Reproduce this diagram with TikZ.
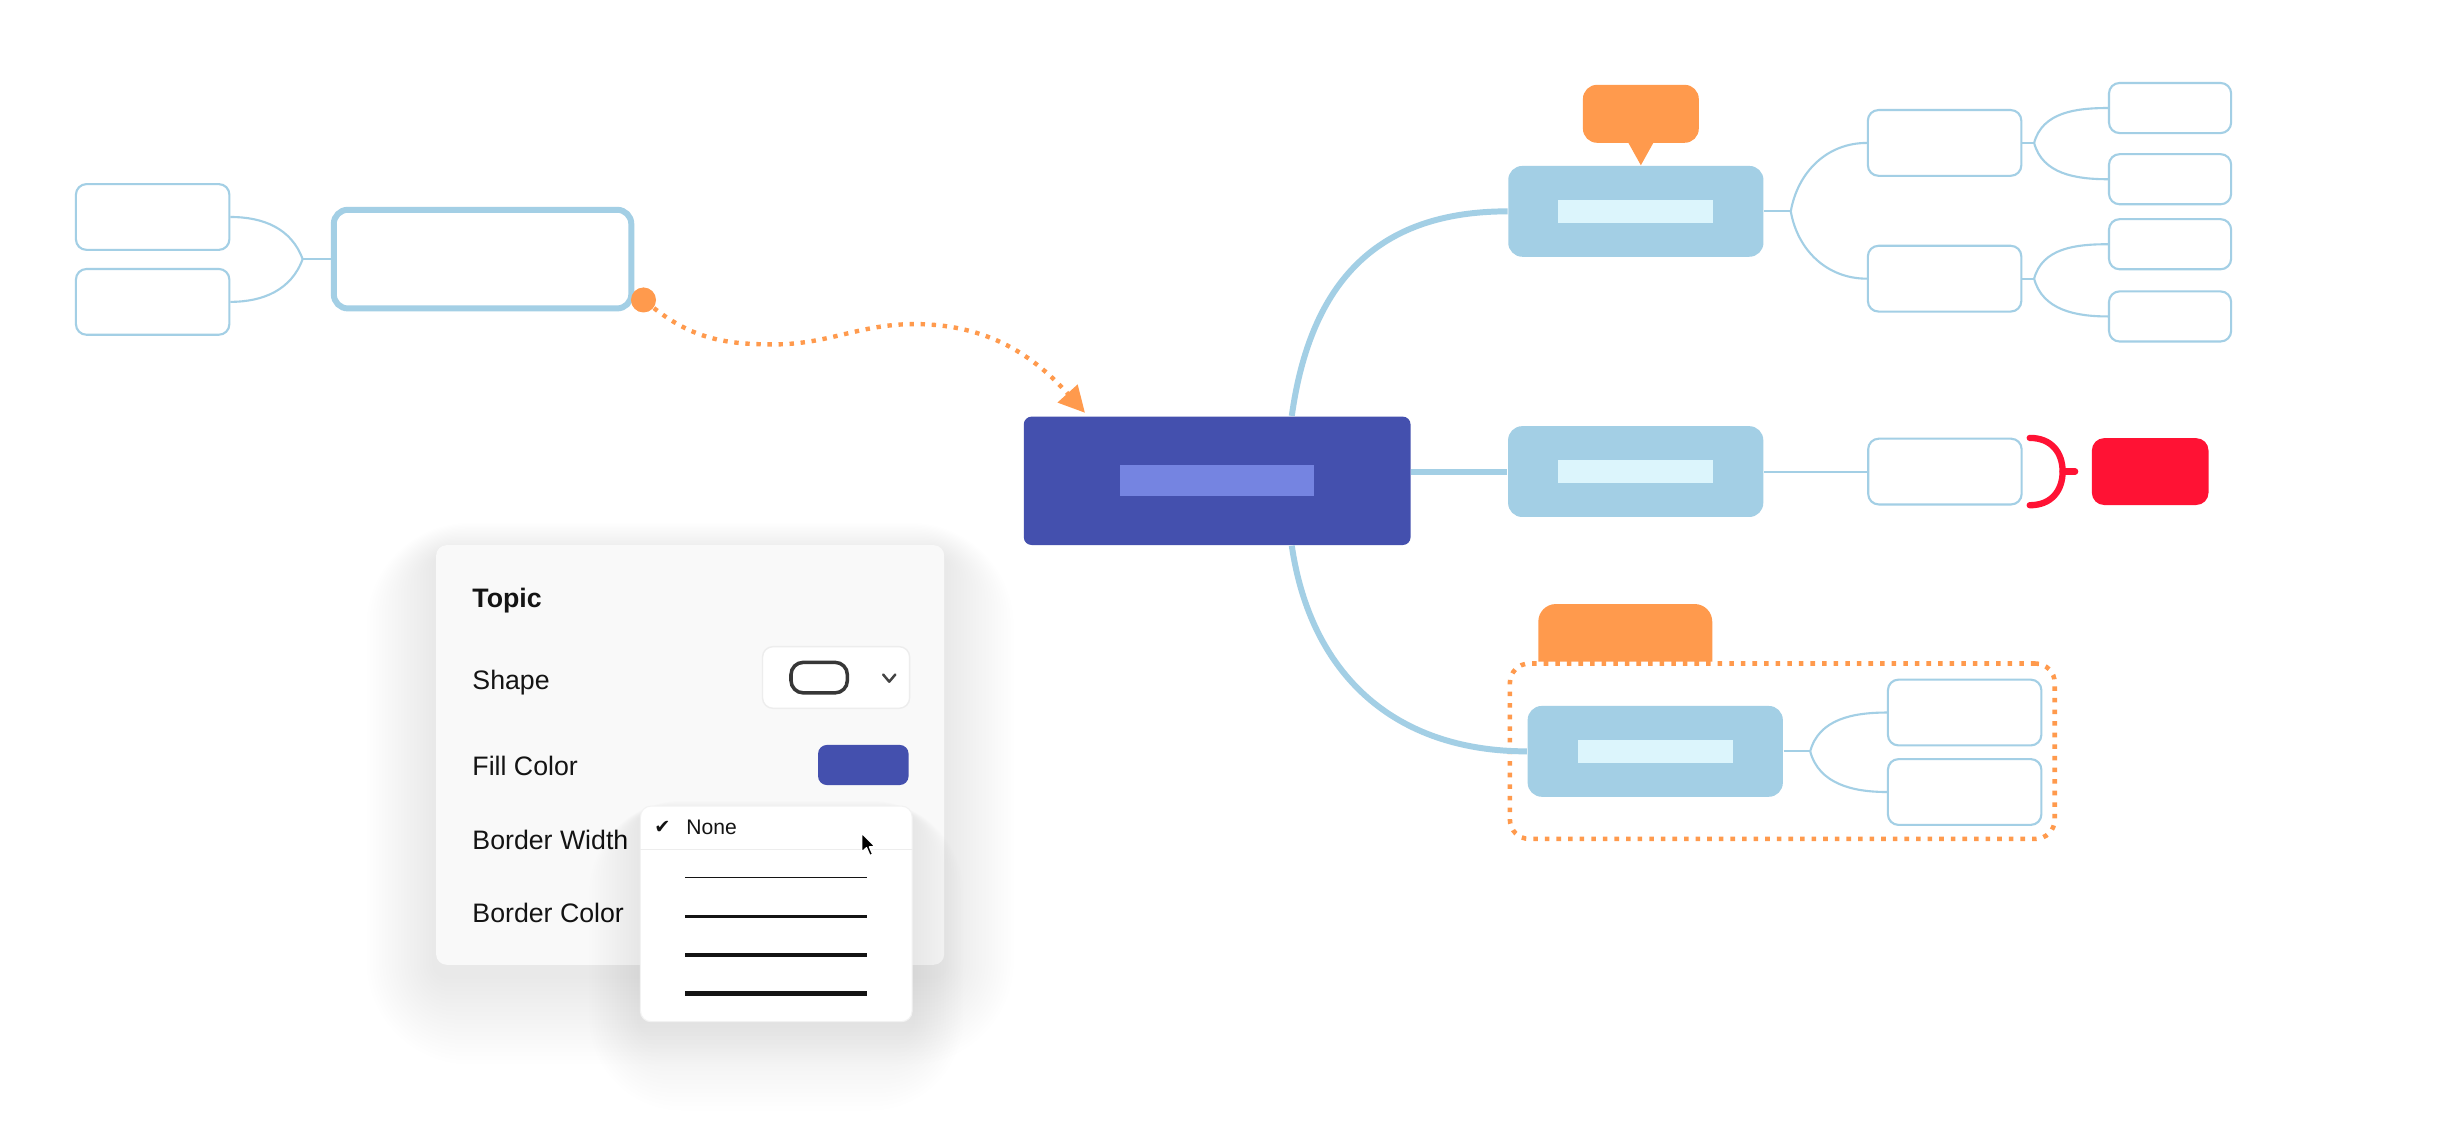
\documentclass[tikz,border=0pt]{standalone}
\usepackage{fontspec}
\setmainfont{Liberation Sans}
\newfontfamily\tickfont{DejaVu Sans}
\usepackage{xcolor}
\usepackage{tikz}
\usetikzlibrary{positioning,arrows.meta,calc}

\definecolor{linkblue}{HTML}{A3CFE5}
\definecolor{paleblue}{HTML}{DCF5FC}
\definecolor{rootblue}{HTML}{4450AE}
\definecolor{rootinner}{HTML}{7584E1}
\definecolor{notecolor}{HTML}{FF9A4D}
\definecolor{markred}{HTML}{FF1234}
\definecolor{panelgray}{HTML}{F9F9F9}
\definecolor{ink}{HTML}{141414}

\newdimen\pxu
\pxu=0.015657cm

\tikzset{
root/.style={
fill=rootblue,
rounded corners=2.2pt,
minimum width=247\pxu,
minimum height=82\pxu,
inner sep=0pt
},
rootbar/.style={
fill=rootinner,
minimum width=124\pxu,
minimum height=20\pxu,
inner sep=0pt
},
topic/.style={
fill=linkblue,
rounded corners=4pt,
minimum width=163\pxu,
minimum height=58\pxu,
inner sep=0pt
},
topicbar/.style={
fill=paleblue,
minimum width=99\pxu,
minimum height=15\pxu,
inner sep=0pt
},
mainbox/.style={
draw=linkblue,
line width=1.7pt,
fill=white,
rounded corners=4pt,
minimum width=190\pxu,
minimum height=63\pxu,
inner sep=0pt
},
leaf/.style={
draw=linkblue,
line width=0.6pt,
fill=white,
rounded corners=3pt,
minimum width=98\pxu,
minimum height=42\pxu,
inner sep=0pt
},
smallleaf/.style={
leaf,
minimum width=78\pxu,
minimum height=32\pxu
},
note/.style={
fill=notecolor,
rounded corners=4pt,
inner sep=0pt
},
bough/.style={
draw=linkblue,
line width=1.7pt
},
twig/.style={
draw=linkblue,
line width=0.6pt
},
relation/.style={
draw=notecolor,
line width=1.25pt,
dash pattern=on 1.25pt off 1.9pt,
-{Triangle[length=2.6mm,width=2.6mm]}
},
boundary/.style={
draw=notecolor,
line width=1.3pt,
dash pattern=on 1.3pt off 2pt,
rounded corners=5.5pt,
minimum width=348\pxu,
minimum height=112\pxu,
inner sep=0pt
},
markline/.style={
draw=markred,
line width=1.8pt,
line cap=round
},
panel/.style={
fill=panelgray,
rounded corners=3pt,
minimum width=324.5\pxu,
minimum height=268\pxu,
inner sep=0pt
},
field/.style={
font=\fontsize{7.6}{9}\selectfont,
text=ink,
inner sep=0pt,
anchor=base west
},
selectbox/.style={
fill=white,
draw=black!7,
line width=0.4pt,
rounded corners=3pt,
minimum width=94\pxu,
minimum height=39.4\pxu,
inner sep=0pt
},
shapeicon/.style={
draw=ink!85,
line width=1pt,
rounded corners=3.5pt,
minimum width=36\pxu,
minimum height=19.5\pxu,
inner sep=0pt
},
swatch/.style={
fill=rootblue,
rounded corners=2.5pt,
minimum width=57.8\pxu,
minimum height=25.6\pxu,
inner sep=0pt
},
menu/.style={
fill=white,
draw=black!5,
line width=0.3pt,
rounded corners=3pt,
minimum width=173.5\pxu,
minimum height=137.7\pxu,
inner sep=0pt
}
}

\begin{document}
\begin{tikzpicture}[x=0.015657cm,y=-0.015657cm]
\useasboundingbox (0,0) rectangle (1568,728);
\fill[white] (0,0) rectangle (1568,728);

\node[root](cen) at (777.4,307.1){};
\node[rootbar](cenbar) at (cen.center){};

\node[mainbox](side) at (308.2,165.5){};
\node[leaf](s1) at (97.5,138.6){};
\node[leaf,below=0.17cm of s1](s2){};
\coordinate (sj) at ($(side.west)+(-18,0)$);
\foreach \dst/\ang in {s1/110,s2/-110}
\draw[twig](\dst.east) to[out=0,in=\ang] (sj);
\draw[twig](sj)--(side.west);

\node[topic](T1) at (1044.8,135){};
\node[topicbar](T1bar) at (T1.center){};
\node[note,minimum width=74\pxu,minimum height=37\pxu](n1) at (1048,72.7){};
\fill[notecolor] ($(n1.south)+(-8.3,-1)$) -- ($(n1.south)+(8.3,-1)$) -- (n1.south |- T1.north) -- cycle;

\node[leaf](C1) at (1242,91.3){};
\node[leaf](C2) at (1242,178){};
\node[smallleaf](G1) at (1386,69){};
\node[smallleaf,below=0.19cm of G1](G2){};
\node[smallleaf](G3) at (1386,156){};
\node[smallleaf,below=0.2cm of G3](G4){};
\coordinate (fT1) at ($(T1.east)+(17,0)$);
\coordinate (fC1) at ($(C1.east)+(7.5,0)$);
\coordinate (fC2) at ($(C2.east)+(7.5,0)$);

\node[topic](T2) at (1044.7,301.2){};
\node[topicbar](T2bar) at (T2.center){};
\node[leaf](M1) at (1242.2,301.2){};
\node[note,fill=markred,rounded corners=3.5pt,minimum width=74.5\pxu,minimum height=42.7\pxu](red) at (1373.3,301.2){};

\fill[notecolor] (982.5,422.6) [rounded corners=5pt] -- (982.5,385.8) -- (1093.6,385.8) [sharp corners] -- (1093.6,422.6) -- cycle;
\node[topic](T3) at (1057.2,479.9){};
\node[topicbar](T3bar) at (T3.center){};
\node[leaf](B1) at (1254.8,455.1){};
\node[leaf,below=0.116cm of B1](B2){};
\coordinate (fT3) at ($(T3.east)+(17,0)$);
\node[boundary](grp) at (1138.35,479.8){};

\foreach \src/\dst in {T1/fT1,C1/fC1,C2/fC2,T3/fT3}
\draw[twig](\src.east)--(\dst);
\foreach \src/\dst/\ang in {fT1/C1/80,fT1/C2/-80,fC1/G1/75,fC1/G2/-75,fC2/G3/75,fC2/G4/-75,fT3/B1/75,fT3/B2/-75}
\draw[twig](\src) to[out=\ang,in=180] (\dst.west);
\draw[twig](T2.east)--(M1.west);

\coordinate (cup) at ($(cen.north east)+(-76.3,0)$);
\coordinate (cdown) at ($(cen.south east)+(-76.3,0)$);
\draw[bough](cup) .. controls +(12,-86) and +(-83,0) .. (T1.west);
\draw[bough](cen.east |- T2.west)--(T2.west);
\draw[bough](cdown) .. controls +(12,82) and +(-85,0) .. (T3.west);

\draw[markline] ($(M1.east)+(4.5,-21.5)$) .. controls +(14,0) and +(0,-12) .. ($(M1.east)+(25.5,0)$) .. controls +(0,12) and +(14,0) .. ($(M1.east)+(4.5,21.5)$);
\draw[markline] ($(M1.east)+(25.5,0)$) -- ($(M1.east)+(33.5,0)$);

\node[circle,fill=notecolor,minimum size=16\pxu,inner sep=0pt](dot) at (411,191.6){};
\coordinate (w1) at (494,220);
\coordinate (w2) at (584,207);
\coordinate (tip) at ($(cen.north west)+(39.5,-2)$);
\draw[relation](dot) to[out=-38,in=180] (w1) to[out=0,in=180] (w2) to[out=0,in=132] (tip);

\node[panel,opacity=0](panelgeo) at (440.8,482.2){};
\foreach \k in {1,...,22}
\fill[black,opacity=0.0028,rounded corners=3pt+\k*1.2pt] ($(panelgeo.north west)+(-2*\k,6-0.9*\k)$) rectangle ($(panelgeo.south east)+(2*\k,6+2.6*\k)$);
\node[panel](panel) at (panelgeo.center){};

\node[field,font=\fontsize{7.6}{9}\selectfont\bfseries](ttl) at (301.3,388.3){Topic};
\node[field](shp) at (301.3,440.3){Shape};
\node[field](fil) at (301.3,495){Fill Color};
\node[field](bwd) at (301.3,542.3){Border Width};
\node[field](bcl) at (301.3,589.5){Border Color};

\node[selectbox](sel) at (534,432.7){};
\node[shapeicon](icon) at (523.2,432.8){};
\draw[ink!80,line width=0.7pt,line cap=round,line join=round] ($(sel.east)+(-17.4,-1.9)$) -- ++(3.9,4.6) -- ++(3.9,-4.6);
\node[swatch](sw) at (551.4,488.6){};

\node[menu,opacity=0](menugeo) at (495.8,583.7){};
\foreach \k in {1,...,18}
\fill[black,opacity=0.0035,rounded corners=3pt+\k*1.3pt] ($(menugeo.north west)+(-1.8*\k,4-0.4*\k)$) rectangle ($(menugeo.south east)+(1.8*\k,6+2.8*\k)$);
\node[menu](menu) at (menugeo.center){};
\node[font=\tickfont\fontsize{5.5}{6}\selectfont,text=ink,inner sep=0pt](chk) at (423.1,528.6){✔};
\node[field,font=\fontsize{6}{7}\selectfont](none) at (438,533.3){None};
\draw[black!7,line width=0.5pt] (menu.west |- 0,542.5) -- (menu.east |- 0,542.5);
\foreach \y/\w in {560.5/0.5,585.5/0.8,610.2/1.15,634.6/1.5}
\draw[ink,line width=\w pt] (437.8,\y) -- (554,\y);

\coordinate (cur) at (550.4,532.2);
\fill[black,draw=white,line width=0.4pt,line join=round] (cur) -- ++(0,12) -- ++(3,-2.7) -- ++(2.2,5) -- ++(1.8,-0.9) -- ++(-2.1,-4.7) -- ++(3.6,-0.2) -- cycle;
\end{tikzpicture}
\end{document}
